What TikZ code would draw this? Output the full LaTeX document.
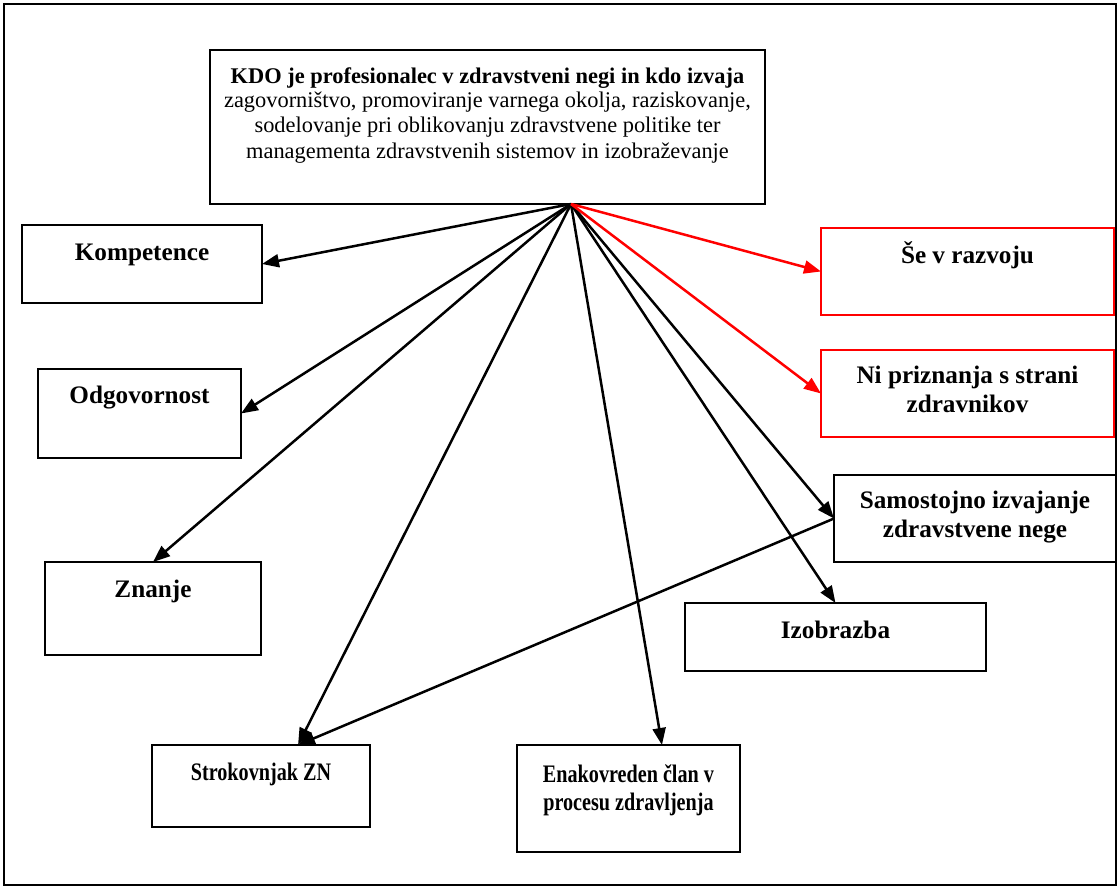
\documentclass[tikz,border=0pt]{standalone}
\usepackage{fontspec}
\setmainfont{Liberation Serif}
\usetikzlibrary{arrows.meta,calc}
% width, height, first-baseline depth, contents
\newcommand\cellbox[4]{%
  \parbox[c][#2pt][t]{#1pt}{\centering\rule{0pt}{#3pt}#4}}
% horizontally condensed label line
\newcommand\narrowline[1]{\scalebox{0.8}[1]{#1}}
\begin{document}
\begin{tikzpicture}[x=1pt,y=-1pt,
  box/.style={draw=black,line width=2pt,inner sep=0pt,outer sep=0pt,
    font=\bfseries\fontsize{25.2}{29}\selectfont},
  redbox/.style={box,draw=red},
  topbox/.style={box,font=\fontsize{22.4}{25}\selectfont},
  link/.style={line width=2.5pt,-{Triangle[length=17pt,width=13pt]}},
  redlink/.style={link,color=red}]
\useasboundingbox (0,0) rectangle (1119,888);
\draw[line width=2pt] (4,4) rectangle (1116,885);

% central description
\node[topbox] (top) at (487.5,127) {\cellbox{555}{154}{33}{%
  \textbf{KDO je profesionalec v zdravstveni negi in kdo izvaja}\\
  zagovorništvo, promoviranje varnega okolja, raziskovanje,\\
  sodelovanje pri oblikovanju zdravstvene politike ter\\
  managementa zdravstvenih sistemov in izobraževanje}};

% attributes
\node[box] (komp) at (142,264) {\cellbox{240}{78}{35}{Kompetence}};
\node[box] (odg) at (139.5,413.5) {\cellbox{203}{89}{34}{Odgovornost}};
\node[box] (znanje) at (153,608.5) {\cellbox{216}{93}{35}{Znanje}};
\node[redbox] (se) at (967.5,271.5) {\cellbox{293}{87}{35}{Še v razvoju}};
\node[redbox] (ni) at (967.5,393.5) {\cellbox{293}{87}{33}{Ni priznanja s strani\\zdravnikov}};
\node[box] (samo) at (975,518.5) {\cellbox{282}{87}{33}{Samostojno izvajanje\\zdravstvene nege}};
\node[box] (izo) at (835.5,637) {\cellbox{301}{68}{35}{Izobrazba}};
\node[box] (strok) at (261,786) {\cellbox{218}{82}{35}{\narrowline{Strokovnjak ZN}}};
\node[box,font=\bfseries\fontsize{25.2}{28}\selectfont] (enak) at (628.5,798.5)
  {\cellbox{223}{107}{37}{\narrowline{Enakovreden član v}\\\narrowline{procesu zdravljenja}}};

% connector end points
\coordinate (o) at ($(top.south west)+(361,0)$);
\coordinate (sk) at ($(strok.north west)!0.67!(strok.north east)$);
\coordinate (ek) at ($(enak.north west)!0.65!(enak.north east)$);

% connectors
\draw[link] (o) -- (komp.east);
\draw[link] (o) -- (odg.east);
\draw[link] (o) -- (znanje.north);
\draw[link] (o) -- (sk);
\draw[link] (o) -- (ek);
\draw[link] (o) -- (izo.north);
\draw[link] (o) -- (samo.west);
\draw[link] (samo.west) -- (sk);
\draw[redlink] (o) -- (se.west);
\draw[redlink] (o) -- (ni.west);
\end{tikzpicture}
\end{document}
